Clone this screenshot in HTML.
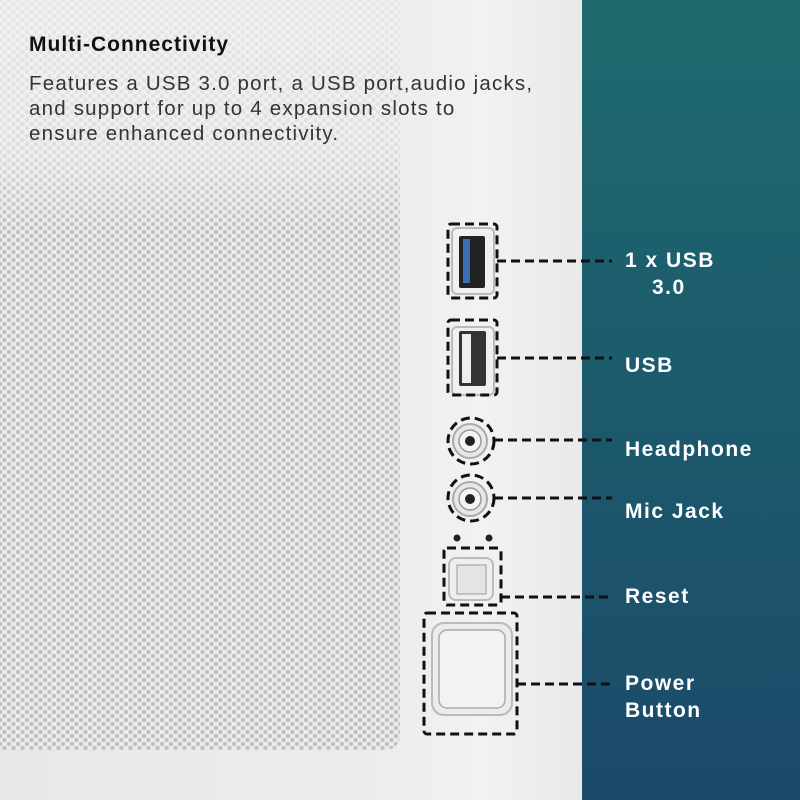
<!DOCTYPE html>
<html><head><style>
html,body{margin:0;padding:0;}
body{width:800px;height:800px;position:relative;overflow:hidden;background:#ececec;font-family:"Liberation Sans",sans-serif;}
#bg{position:absolute;left:0;top:0;width:582px;height:800px;background:linear-gradient(90deg,#e8e8e8 0,#ededed 400px,#f2f2f2 480px,#e9e9e9 582px);}
#mesh{position:absolute;left:0;top:0;width:400px;height:750px;border-bottom-right-radius:14px;
background-color:#eeeeee;
background-image:radial-gradient(circle,#c2c2c2 2px,transparent 2.6px),radial-gradient(circle,#c2c2c2 2px,transparent 2.6px);
background-size:9px 8px,9px 8px;background-position:0 0,4.5px 4px;}
#fade{position:absolute;left:0;top:0;width:400px;height:230px;background:linear-gradient(180deg,rgba(242,242,242,.75) 0,rgba(242,242,242,.6) 150px,rgba(242,242,242,0) 230px);}
#teal{position:absolute;left:582px;top:0;width:218px;height:800px;background:linear-gradient(180deg,#1f6a6e 0,#1c5a6c 50%,#1b4a6a 100%);}
.h{position:absolute;left:29px;top:33px;font-size:21px;font-weight:bold;color:#111;letter-spacing:1px;}
.p{position:absolute;left:29px;top:71px;font-size:20.5px;line-height:25px;color:#333;width:580px;letter-spacing:1.2px;white-space:nowrap;}
.l{position:absolute;color:#fff;font-weight:bold;font-size:21px;line-height:27px;letter-spacing:1.5px;}
</style></head><body>
<div id="bg"></div><div id="mesh"></div><div id="fade"></div><div id="teal"></div>
<div class="h">Multi-Connectivity</div>
<div class="p">Features a USB 3.0 port, a USB port,audio jacks,<br>and support for up to 4 expansion slots to<br>ensure enhanced connectivity.</div>
<svg width="800" height="800" style="position:absolute;left:0;top:0">
<rect x="452" y="228" width="42" height="66" rx="5" fill="#f0f0f0" stroke="#bbb" stroke-width="2"/>
<rect x="459" y="236" width="26" height="52" rx="2" fill="#222"/>
<rect x="463" y="239" width="7" height="44" fill="#3a6fb5"/>
<rect x="452" y="327" width="42" height="68" rx="5" fill="#f0f0f0" stroke="#bbb" stroke-width="2"/>
<rect x="459" y="331" width="27" height="55" rx="2" fill="#333"/>
<rect x="462" y="334" width="9" height="49" fill="#eee"/>
<g><circle cx="470" cy="441" r="17" fill="#e8e8e8" stroke="#aaa" stroke-width="2"/><circle cx="470" cy="441" r="11" fill="#f4f4f4" stroke="#999" stroke-width="1.5"/><circle cx="470" cy="441" r="5" fill="#222"/></g>
<g><circle cx="470" cy="499" r="17" fill="#e8e8e8" stroke="#aaa" stroke-width="2"/><circle cx="470" cy="499" r="11" fill="#f4f4f4" stroke="#999" stroke-width="1.5"/><circle cx="470" cy="499" r="5" fill="#222"/></g>
<circle cx="457" cy="538" r="3.5" fill="#222"/><circle cx="489" cy="538" r="3.5" fill="#222"/>
<rect x="449" y="558" width="44" height="42" rx="7" fill="#eee" stroke="#bbb" stroke-width="2"/>
<rect x="457" y="565" width="29" height="29" fill="#e4e4e4" stroke="#999"/>
<rect x="432" y="623" width="80" height="92" rx="12" fill="#ececec" stroke="#bbb" stroke-width="2"/>
<rect x="439" y="630" width="66" height="78" rx="8" fill="#f2f2f2" stroke="#aaa" stroke-width="1.5"/>
<g fill="none" stroke="#111" stroke-width="3" stroke-dasharray="9,5">
<rect x="448" y="224" width="49" height="74" rx="3"/>
<rect x="448" y="320" width="49" height="75" rx="3"/>
<circle cx="471" cy="441" r="23"/>
<circle cx="471" cy="498" r="23"/>
<rect x="444" y="548" width="57" height="57" rx="3"/>
<rect x="424" y="613" width="93" height="121" rx="3"/>
<path d="M497 261H612M497 358H612M494 440H612M494 498H612M501 597H612M517 684H612"/>
</g>
</svg>
<div class="l" style="left:625px;top:247px">1 x USB<br><span style="padding-left:27px">3.0</span></div>
<div class="l" style="left:625px;top:352px">USB</div>
<div class="l" style="left:625px;top:436px">Headphone</div>
<div class="l" style="left:625px;top:498px">Mic Jack</div>
<div class="l" style="left:625px;top:583px">Reset</div>
<div class="l" style="left:625px;top:670px">Power<br>Button</div>
</body></html>
